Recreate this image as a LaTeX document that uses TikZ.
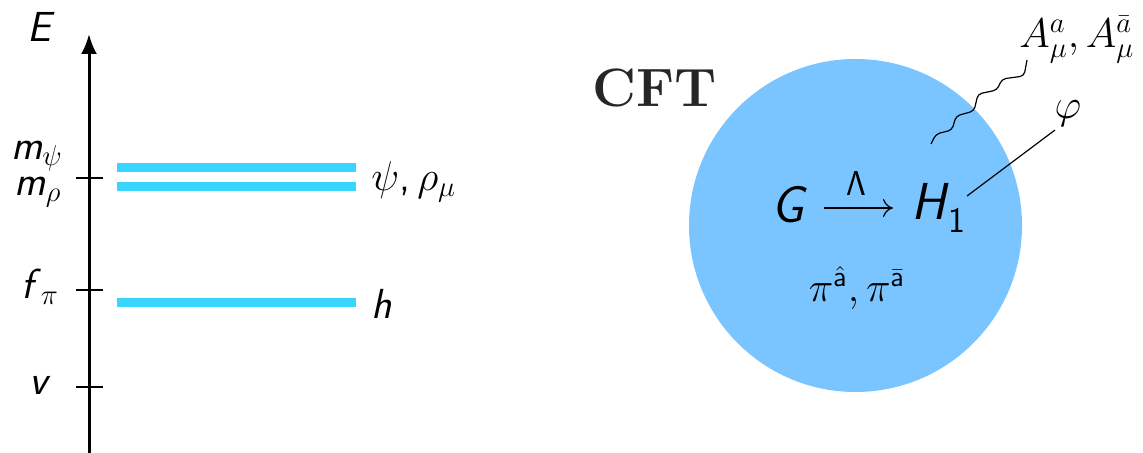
\documentclass[tikz,border=0pt]{standalone}
\usetikzlibrary{arrows.meta}
\definecolor{barcyan}{RGB}{56,214,255}
\definecolor{blobblue}{RGB}{122,196,255}
\newcommand{\sfi}[1]{\textsf{\itshape #1}}
\tikzset{
  axis/.style={line width=1.5pt,-{Latex[length=10pt,width=8pt]}},
  tick/.style={line width=1pt},
  level/.style={barcyan,line width=4.5pt},
  lab/.style={inner sep=0pt,font=\fontsize{21}{24}\selectfont},
  blob/.style={circle,fill=blobblue,minimum size=333*0.5pt,inner sep=0pt},
  big/.style={inner sep=0pt,font=\fontsize{26}{30}\selectfont},
  small/.style={inner sep=0pt,font=\fontsize{20}{23}\selectfont},
  thinline/.style={line width=0.6pt},
}
\begin{document}
\begin{tikzpicture}[x=0.5pt,y=-0.5pt]
\useasboundingbox (0,0) rectangle (1143,453);
% energy axis
\coordinate (ab) at (89,453);
\coordinate (at) at (89,34);
\draw[axis] (ab) -- (at);
\node[lab] (E) at (41,27) {\sfi{E}};
% ticks
\coordinate (t1a) at (76,178); \coordinate (t1b) at (103,178);
\coordinate (t2a) at (76,290); \coordinate (t2b) at (103,290);
\coordinate (t3a) at (76,387); \coordinate (t3b) at (103,387);
\draw[tick] (t1a) -- (t1b);
\draw[tick] (t2a) -- (t2b);
\draw[tick] (t3a) -- (t3b);
\node[lab] (mpsi) at (37,156) {\sfi{m}$_\psi$};
\node[lab] (mrho) at (38,192) {\sfi{m}$_\rho$};
\node[lab] (fpi) at (40,287) {\sfi{f}$_\pi$};
\node[lab] (v) at (40,385) {\sfi{v}};
% levels
\coordinate (l1a) at (117,168); \coordinate (l1b) at (356,168);
\coordinate (l2a) at (117,187); \coordinate (l2b) at (356,187);
\coordinate (l3a) at (117,303); \coordinate (l3b) at (356,303);
\draw[level] (l1a) -- (l1b);
\draw[level] (l2a) -- (l2b);
\draw[level] (l3a) -- (l3b);
\node[lab,anchor=west] (psirho) at (371,182) {$\psi$\textsf{,}\,$\rho_\mu$};
\node[lab] (h) at (382,304) {\sfi{h}};
% CFT blob
\node[blob] (cft) at (855.5,225.5) {};
\node[inner sep=0pt,font=\fontsize{27}{30}\selectfont\bfseries,text=black!85] (cftlab) at (655,88) {CFT};
\node[big] (G) at (789,205) {\sfi{G}};
\node[big,anchor=west] (H1) at (911,208) {\sfi{H}\raisebox{-0.25em}{\fontsize{18}{20}\selectfont\textsf{1}}};
\draw[-{To[length=5pt,width=9pt]},thinline] (824,208) coordinate (arrS) -- (893,208) coordinate (arrE);
\node[inner sep=0pt,font=\fontsize{18}{20}\selectfont] (Lam) at (856,184) {$\mathsf{\Lambda}$};
\node[inner sep=0pt,font=\fontsize{21}{24}\selectfont] (pions) at (857,288) {$\pi^{\hat{\mathsf{a}}},\pi^{\bar{\mathsf{a}}}$};
% phi line
\coordinate (phiS) at (967,196);
\node[small] (phi) at (1068,114) {$\varphi$};
\draw[thinline] (phiS) -- (1055,130) coordinate (phiE);
% gauge fields
\node[inner sep=0pt,font=\fontsize{22}{26}\selectfont,anchor=west] (A) at (1019,40) {$A^a_\mu, A^{\bar a}_\mu$};
\coordinate (snS) at (931,144);
\coordinate (snE) at (1027,60);
\draw[thinline,rounded corners=2pt] (snS) -- (936,134) -- (952,130) -- (956,116) -- (974,111) -- (978,94) -- (997,90) -- (1002,79) -- (1024,76) -- (snE);
\end{tikzpicture}
\end{document}
